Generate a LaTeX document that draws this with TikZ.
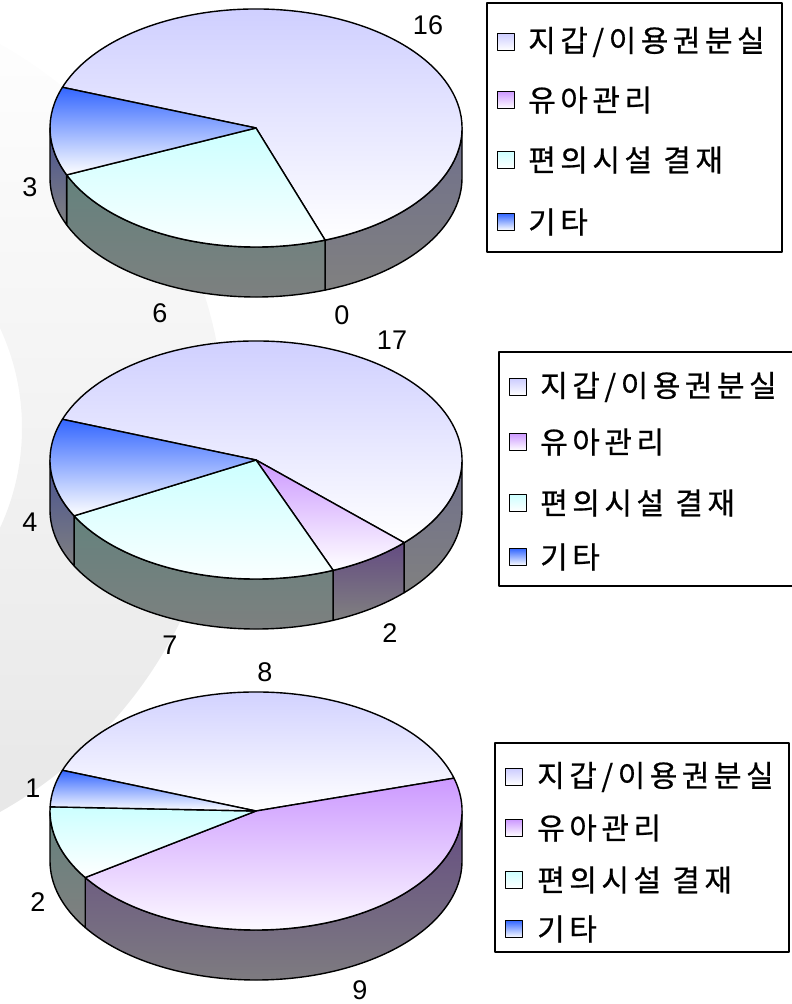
\documentclass[tikz,border=0pt]{standalone}
\usepackage{fontspec}
\setmainfont{Liberation Sans}
\newfontfamily\krfont[LetterSpace=15,FakeBold=0.6]{Noto Sans CJK KR}
\usepackage{tikz}

\definecolor{wallet}{RGB}{204,204,255}
\definecolor{child}{RGB}{204,153,255}
\definecolor{shop}{RGB}{204,255,255}
\definecolor{other}{RGB}{51,102,255}
\definecolor{walletside}{RGB}{112,112,140}
\definecolor{childside}{RGB}{100,75,130}
\definecolor{shopside}{RGB}{100,130,125}
\definecolor{otherside}{RGB}{70,80,145}
\definecolor{sidegray}{RGB}{128,128,128}
\definecolor{ringgray}{RGB}{230,230,230}

% top face of one slice: from angle, to angle, colour
\newcommand\pietop[3]{%
  \shade[top color=#3, bottom color=white, pieline] (0,0) -- (#1:206pt and 119pt)
    arc[start angle=#1, end angle=#2, x radius=206pt, y radius=119pt] -- cycle;}
% front wall of one slice: from angle, to angle, colour
\newcommand\pieside[3]{%
  \shade[top color=#3, bottom color=sidegray, pieline] (#1:206pt and 119pt)
    arc[start angle=#1, end angle=#2, x radius=206pt, y radius=119pt] -- ++(0,-50pt)
    arc[start angle=#2, end angle=#1, x radius=206pt, y radius=119pt] -- cycle;}

\begin{document}
\begin{tikzpicture}[x=1pt,y=1pt,line join=round]
  \tikzstyle{pieline}=[draw=black,line width=1.4pt]
  \tikzstyle{value}=[inner sep=0pt,font=\fontsize{27}{30}\selectfont]
  \tikzstyle{legbox}=[draw=black,fill=white,line width=1.4pt]
  \tikzstyle{legmark}=[draw=black,line width=1pt,minimum size=17pt,inner sep=0pt,bottom color=white]
  \tikzstyle{legtext}=[anchor=west,inner sep=0pt,font=\krfont\fontsize{30}{32}\selectfont]

  \useasboundingbox (0,0) rectangle (792,1004);

  % grey ring behind the charts
  \shade[top color=white, bottom color=ringgray, even odd rule]
    (-215,576) circle[radius=440pt] (-215,576) circle[radius=237pt];

  % first chart
  \begin{scope}[shift={(256,876)}]
    \pieside{0}{-70.4}{walletside}
    \pieside{-70.4}{-156.8}{shopside}
    \pieside{-156.8}{-180}{otherside}
    \pietop{160}{-70.4}{wallet}
    \pietop{-70.4}{-156.8}{shop}
    \pietop{-156.8}{-200}{other}
  \end{scope}
  \node[value] (v16) at (428,979) {16};
  \node[value] (v0)  at (342,689) {0};
  \node[value] (v6)  at (160,691) {6};
  \node[value] (v3)  at (30,817)  {3};

  % second chart
  \begin{scope}[shift={(256,544)}]
    \pieside{0}{-44}{walletside}
    \pieside{-44}{-68}{childside}
    \pieside{-68}{-152}{shopside}
    \pieside{-152}{-180}{otherside}
    \pietop{160}{-44}{wallet}
    \pietop{-44}{-68}{child}
    \pietop{-68}{-152}{shop}
    \pietop{-152}{-200}{other}
  \end{scope}
  \node[value] (v17) at (392,664) {17};
  \node[value] (v2a) at (390,371) {2};
  \node[value] (v7)  at (170,359) {7};
  \node[value] (v4)  at (30,482)  {4};

  % third chart
  \begin{scope}[shift={(256,193)}]
    \pieside{0}{-146}{childside}
    \pieside{-146}{-180}{shopside}
    \pietop{160}{16}{wallet}
    \pietop{16}{-146}{child}
    \pietop{-146}{-182}{shop}
    \pietop{-182}{-200}{other}
  \end{scope}
  \node[value] (v8)  at (265,332) {8};
  \node[value] (v9)  at (360,14)  {9};
  \node[value] (v2b) at (38,102)  {2};
  \node[value] (v1)  at (33,216)  {1};

  % legends
  \draw[legbox] (487,1001) rectangle (782,752);
  \foreach \c/\t/\yy [count=\i] in {wallet/{지갑/이용권분실}/962, child/유아관리/904, shop/편의시설 결재/844, other/기타/782} {
    \node[legmark, top color=\c] (ma\i) at (506,\yy) {};
    \node[legtext] (ta\i) at (528,\yy) {\t};
  }
  \draw[legbox] (499,652) rectangle (800,418);
  \foreach \c/\t/\yy [count=\i] in {wallet/{지갑/이용권분실}/617, child/유아관리/562, shop/편의시설 결재/501, other/기타/447} {
    \node[legmark, top color=\c] (mb\i) at (517.5,\yy) {};
    \node[legtext] (tb\i) at (540,\yy) {\t};
  }
  \draw[legbox] (495,261) rectangle (789,52);
  \foreach \c/\t/\yy [count=\i] in {wallet/{지갑/이용권분실}/227, child/유아관리/176, shop/편의시설 결재/124, other/기타/75} {
    \node[legmark, top color=\c] (mc\i) at (514,\yy) {};
    \node[legtext] (tc\i) at (537,\yy) {\t};
  }
\end{tikzpicture}
\end{document}
